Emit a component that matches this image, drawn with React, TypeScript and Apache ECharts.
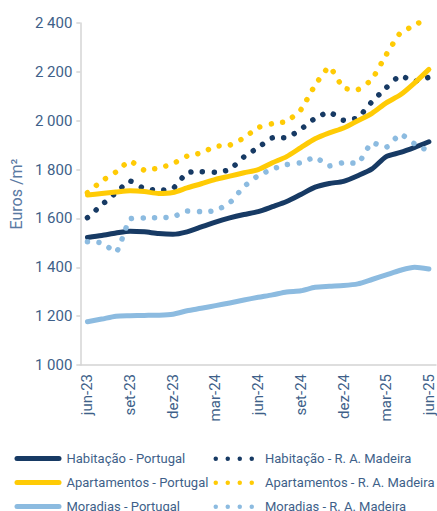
import React, { useEffect, useRef } from "react";
import * as echarts from "echarts";

const months = [
  "jun-23", "jul-23", "ago-23", "set-23", "out-23", "nov-23", "dez-23",
  "jan-24", "fev-24", "mar-24", "abr-24", "mai-24", "jun-24", "jul-24",
  "ago-24", "set-24", "out-24", "nov-24", "dez-24", "jan-25", "fev-25",
  "mar-25", "abr-25", "mai-25", "jun-25",
];

const habitacaoPortugal = [1522, 1530, 1540, 1548, 1545, 1538, 1535, 1545, 1565, 1585, 1602, 1616, 1628, 1648, 1669, 1698, 1728, 1743, 1752, 1775, 1803, 1853, 1870, 1891, 1914];
const habitacaoMadeira = [1603, 1655, 1705, 1753, 1722, 1716, 1722, 1787, 1791, 1789, 1800, 1852, 1890, 1930, 1931, 1965, 2010, 2035, 2002, 2012, 2078, 2135, 2184, 2162, 2178];
const apartamentosPortugal = [1696, 1702, 1708, 1713, 1710, 1702, 1706, 1725, 1742, 1760, 1773, 1787, 1800, 1828, 1853, 1890, 1926, 1950, 1970, 2000, 2030, 2073, 2106, 2155, 2210];
const apartamentosMadeira = [1705, 1753, 1790, 1835, 1798, 1806, 1824, 1855, 1868, 1895, 1900, 1930, 1972, 1988, 1997, 2045, 2145, 2220, 2134, 2128, 2170, 2270, 2360, 2390, 2428];
const moradiasPortugal = [1177, 1188, 1200, 1202, 1203, 1204, 1208, 1222, 1232, 1243, 1254, 1266, 1277, 1287, 1299, 1304, 1318, 1322, 1325, 1332, 1350, 1369, 1388, 1400, 1393];
const moradiasMadeira = [1505, 1500, 1462, 1598, 1602, 1603, 1606, 1630, 1628, 1632, 1664, 1730, 1775, 1802, 1820, 1828, 1850, 1815, 1828, 1826, 1910, 1892, 1945, 1905, 1875];

const yTicks = { min: 1000, max: 2400, interval: 200 };

const NAVY = "#173a64";
const YELLOW = "#ffcb05";
const LIGHT = "#8cbbe0";
const TEXT = "#3e5f89";

const names = {
  hp: "Habitação - Portugal",
  hm: "Habitação - R. A. Madeira",
  ap: "Apartamentos - Portugal",
  am: "Apartamentos - R. A. Madeira",
  mp: "Moradias - Portugal",
  mm: "Moradias - R. A. Madeira",
};

const solidIcon = "path://M2.5,0H44.5A2.5,2.5,0,0,1,44.5,5H2.5A2.5,2.5,0,0,1,2.5,0Z";
const dotIcon =
  "path://M0,2.25a2.25,2.25 0 1,0 4.5,0a2.25,2.25 0 1,0 -4.5,0Z" +
  "M12,2.25a2.25,2.25 0 1,0 4.5,0a2.25,2.25 0 1,0 -4.5,0Z" +
  "M24,2.25a2.25,2.25 0 1,0 4.5,0a2.25,2.25 0 1,0 -4.5,0Z" +
  "M36,2.25a2.25,2.25 0 1,0 4.5,0a2.25,2.25 0 1,0 -4.5,0Z";

function solid(name: string, data: number[], color: string) {
  return {
    name,
    type: "line",
    data,
    color,
    symbol: "none",
    smooth: 0.25,
    lineStyle: { width: 5, color, cap: "round", join: "round" },
  };
}

function dotted(name: string, data: number[], color: string) {
  return {
    name,
    type: "line",
    data,
    color,
    symbol: "none",
    smooth: 0.15,
    lineStyle: { width: 5.5, color, type: [0.01, 11.5], cap: "round", join: "round" },
  };
}

const legendText = { color: TEXT, fontSize: 13, fontFamily: "Roboto" };
const rowTops = [452, 476, 500];

function legendItem(name: string, row: number, right: boolean) {
  return right
    ? {
        left: 213.5,
        top: rowTops[row] + 0.25,
        padding: 0,
        itemWidth: 40.5,
        itemHeight: 4.5,
        icon: dotIcon,
        textStyle: { ...legendText, padding: [0, 0, 0, 6] },
        data: [name],
        selectedMode: false,
      }
    : {
        left: 14.5,
        top: rowTops[row],
        padding: 0,
        itemWidth: 47,
        itemHeight: 5,
        icon: solidIcon,
        textStyle: legendText,
        data: [name],
        selectedMode: false,
      };
}

export default function App() {
  const ref = useRef<HTMLDivElement>(null);
  useEffect(() => {
    if (!ref.current) return;
    const chart = echarts.init(ref.current, undefined, { renderer: "svg" });
    chart.setOption({
      animation: false,
      textStyle: { fontFamily: "Roboto" },
      grid: { left: 76, top: 23, right: 1, bottom: 146 },
      legend: [
        legendItem(names.hp, 0, false),
        legendItem(names.hm, 0, true),
        legendItem(names.ap, 1, false),
        legendItem(names.am, 1, true),
        legendItem(names.mp, 2, false),
        legendItem(names.mm, 2, true),
      ],
      xAxis: {
        type: "category",
        data: months,
        boundaryGap: true,
        axisLine: { lineStyle: { color: "#d4d4d4", width: 1.5 } },
        axisTick: { interval: 2, length: 5, lineStyle: { color: "#d4d4d4", width: 1.5 } },
        axisLabel: { interval: 2, rotate: 90, margin: 9, color: TEXT, fontSize: 15 },
      },
      yAxis: {
        type: "value",
        min: yTicks.min,
        max: yTicks.max,
        interval: yTicks.interval,
        name: "Euros /m²",
        nameLocation: "middle",
        nameGap: 48,
        nameTextStyle: { color: "#5a7aa3", fontSize: 16 },
        axisLine: { show: true, lineStyle: { color: "#d4d4d4", width: 1.5 } },
        axisTick: { show: true, length: 4, lineStyle: { color: "#d4d4d4", width: 1.5 } },
        splitLine: { show: false },
        axisLabel: {
          margin: 8,
          color: TEXT,
          fontSize: 15,
          formatter: (v: number) => String(v).replace(/\B(?=(\d{3})+(?!\d))/g, " "),
        },
      },
      series: [
        solid(names.hp, habitacaoPortugal, NAVY),
        dotted(names.hm, habitacaoMadeira, NAVY),
        solid(names.ap, apartamentosPortugal, YELLOW),
        dotted(names.am, apartamentosMadeira, YELLOW),
        solid(names.mp, moradiasPortugal, LIGHT),
        dotted(names.mm, moradiasMadeira, LIGHT),
      ],
    });
    return () => chart.dispose();
  }, []);
  return (
    <div
      ref={ref}
      style={{ position: "absolute", left: 0, top: 0, width: 437, height: 511 }}
    />
  );
}
